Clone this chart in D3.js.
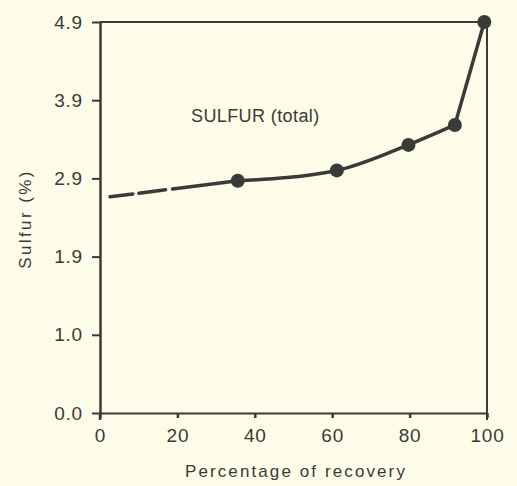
<!DOCTYPE html>
<html><head><meta charset="utf-8">
<script src="https://cdn.jsdelivr.net/npm/d3@7"></script>
<style>
html,body{margin:0;padding:0;background:#fcfce9;}
svg{display:block;}
text{font-family:"Liberation Sans",Arial,sans-serif;fill:#3a3a36;}
</style></head>
<body>
<script>
// Data
const recovery = [35.6, 61.2, 79.7, 91.7, 99.3];
const sulfur = [2.91, 3.04, 3.36, 3.61, 4.90];
const dashedRecovery = [2.6, 35.6];
const dashedSulfur = [2.71, 2.91];
const xTickValues = [0, 20, 40, 60, 80, 100];
const yTickValues = [0, 0.98, 1.96, 2.94, 3.92, 4.9];
const yTickLabels = ["0.0", "1.0", "1.9", "2.9", "3.9", "4.9"];
const title = "SULFUR (total)";
const xLabel = "Percentage of recovery";
const yLabel = "Sulfur (%)";

const W = 517, H = 486;
const m = {left: 100, right: 30, top: 22, bottom: 73};
const ink = "#3a3a36";

const svg = d3.select("body").append("svg").attr("width", W).attr("height", H);
const x = d3.scaleLinear().domain([0, 100]).range([m.left, W - m.right]);
const y = d3.scaleLinear().domain([0, 4.9]).range([H - m.bottom, m.top]);

// frame: top and right
svg.append("line").attr("x1", x(0)).attr("x2", x(100)).attr("y1", y(4.9)).attr("y2", y(4.9))
  .attr("stroke", ink).attr("stroke-width", 2);
svg.append("line").attr("x1", x(100)).attr("x2", x(100)).attr("y1", y(4.9)).attr("y2", y(0) + 7)
  .attr("stroke", ink).attr("stroke-width", 2);
svg.append("line").attr("x1", x(0)).attr("x2", x(0)).attr("y1", y(0)).attr("y2", y(0) + 7)
  .attr("stroke", ink).attr("stroke-width", 2.5);

const tickFont = "Liberation Sans, Arial, sans-serif";

// x axis
const gx = svg.append("g").attr("transform", `translate(0,${y(0)})`)
  .call(d3.axisBottom(x).tickValues(xTickValues).tickSize(5).tickSizeOuter(0).tickPadding(11).tickFormat(d3.format("d")));
gx.select(".domain").attr("stroke", ink).attr("stroke-width", 2);
gx.selectAll(".tick line").attr("stroke", ink).attr("stroke-width", 2.5);
gx.selectAll(".tick text").attr("font-size", 19).attr("fill", ink).attr("letter-spacing", 0.8).style("font-family", tickFont);

// y axis
const gy = svg.append("g").attr("transform", `translate(${x(0)},0)`)
  .call(d3.axisLeft(y).tickValues(yTickValues).tickSize(8).tickSizeOuter(0).tickPadding(9)
    .tickFormat((d, i) => yTickLabels[i]));
gy.select(".domain").attr("stroke", ink).attr("stroke-width", 2.5);
gy.selectAll(".tick line").attr("stroke", ink).attr("stroke-width", 2);
gy.selectAll(".tick text").attr("font-size", 19).attr("fill", ink).attr("letter-spacing", 0.8).style("font-family", tickFont);

// dashed extrapolation
const pts = recovery.map((r, i) => [r, sulfur[i]]);
const dpts = dashedRecovery.map((r, i) => [r, dashedSulfur[i]]);
svg.append("path").datum(dpts)
  .attr("d", d3.line().x(d => x(d[0])).y(d => y(d[1])))
  .attr("fill", "none").attr("stroke", ink).attr("stroke-width", 3.5)
  .attr("stroke-dasharray", "23,6,27,7,80").attr("stroke-linecap", "round");

// solid curve: smooth through the lower points, then the steep final rise
svg.append("path").datum(pts.slice(0, 4))
  .attr("d", d3.line().x(d => x(d[0])).y(d => y(d[1])).curve(d3.curveMonotoneX))
  .attr("fill", "none").attr("stroke", ink).attr("stroke-width", 3.5);
svg.append("path").datum(pts.slice(3))
  .attr("d", d3.line().x(d => x(d[0])).y(d => y(d[1])))
  .attr("fill", "none").attr("stroke", ink).attr("stroke-width", 3.5);

// points
svg.selectAll("circle.pt").data(pts).enter().append("circle")
  .attr("cx", d => x(d[0])).attr("cy", d => y(d[1])).attr("r", 7).attr("fill", ink);

// title
svg.append("text").attr("x", 191).attr("y", 122).attr("font-size", 18).attr("letter-spacing", 0.4).text(title);

// axis labels
svg.append("text").attr("x", 296).attr("y", 477).attr("text-anchor", "middle")
  .attr("font-size", 17).attr("letter-spacing", 2.1).text(xLabel);
svg.append("text").attr("transform", "translate(31,219) rotate(-90)").attr("text-anchor", "middle")
  .attr("font-size", 17).attr("letter-spacing", 2.4).text(yLabel);
</script>
</body></html>
